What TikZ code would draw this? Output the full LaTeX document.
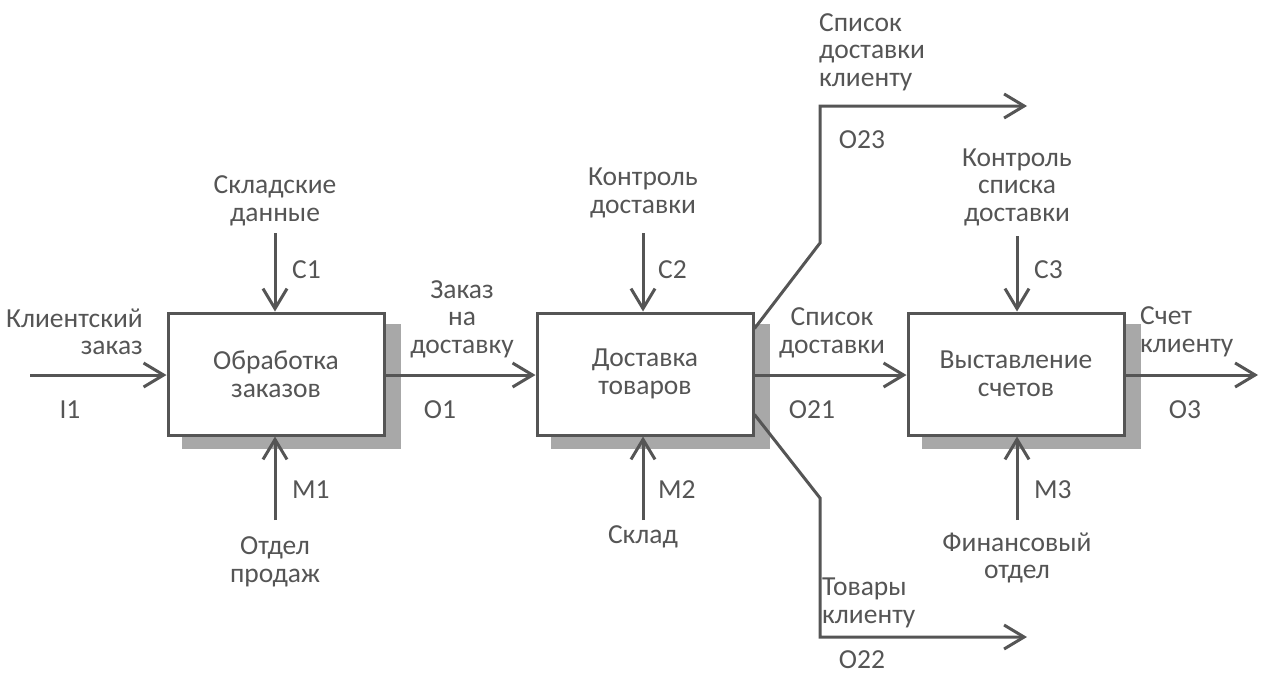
\documentclass[tikz,border=0pt]{standalone}
\usepackage{fontspec}
\setmainfont{Carlito}
\usetikzlibrary{arrows.meta,calc,backgrounds}
\definecolor{ln}{HTML}{555555}
\definecolor{sh}{HTML}{A8A8A8}
\definecolor{tx}{HTML}{555555}
\begin{document}
\begin{tikzpicture}[x=1pt,y=-1pt,
 box/.style={draw=ln, line width=3pt, fill=white, minimum width=216pt, minimum height=122pt, inner sep=0pt, align=center, text=tx, font=\fontsize{27.5}{28}\selectfont},
 lbl/.style={text=tx, font=\fontsize{27.5}{27.5}\selectfont, inner sep=0pt, align=center},
 arr/.style={draw=ln, line width=3pt, -{Straight Barb[length=20pt,width=24pt,line width=3pt]}},
]
\useasboundingbox (0,0) rectangle (1270,675);
% boxes
\node[box] (b1) at (276,374) {Обработка\\заказов};
\node[box] (b2) at (645,374) {Доставка\\товаров};
\node[box] (b3) at (1016,374) {Выставление\\счетов};
\begin{scope}[on background layer]
 \foreach \b in {b1,b2,b3}{
  \fill[sh] ($(\b.south west)+(15,12)$) rectangle ($(\b.north east)+(15,12)$);
 }
\end{scope}
% labels
\node[lbl, align=right, anchor=east] (li) at (143,332) {Клиентский\\заказ};
\node[lbl] (lI1) at (70,410) {I1};
\node[lbl] (lc1) at (275,201) {Складские\\данные};
\node[lbl, anchor=west] (tc1) at (292,270) {C1};
\node[lbl, anchor=west] (tm1) at (292,490) {M1};
\node[lbl] (lm1) at (275,562) {Отдел\\продаж};
\node[lbl] (lo1) at (462,319) {Заказ\\на\\доставку};
\node[lbl] (to1) at (440,410) {O1};
\node[lbl] (lc2) at (643,193) {Контроль\\доставки};
\node[lbl, anchor=west] (tc2) at (658,270) {C2};
\node[lbl, anchor=west] (tm2) at (658,490) {M2};
\node[lbl] (lm2) at (643,537) {Склад};
\node[lbl] (lo21) at (832,333) {Список\\доставки};
\node[lbl] (to21) at (812,410) {O21};
\node[lbl, align=left, anchor=west] (lo23) at (819,52) {Список\\доставки\\клиенту};
\node[lbl] (to23) at (862,140) {O23};
\node[lbl] (lc3) at (1017,187) {Контроль\\списка\\доставки};
\node[lbl, anchor=west] (tc3) at (1034,270) {C3};
\node[lbl, anchor=west] (tm3) at (1034,490) {M3};
\node[lbl] (lm3) at (1017,558) {Финансовый\\отдел};
\node[lbl, align=left, anchor=west] (lo22) at (822,603) {Товары\\клиенту};
\node[lbl] (to22) at (862,660) {O22};
\node[lbl, align=left, anchor=west] (lo3) at (1140,332) {Счет\\клиенту};
\node[lbl] (to3) at (1185,410) {O3};
% coordinates
\coordinate (i1) at (30,375);
\coordinate (c1) at (275,233);
\coordinate (m1) at (275,520);
\coordinate (c2) at (643,233);
\coordinate (m2) at (643,520);
\coordinate (c3) at (1017,236);
\coordinate (m3) at (1017,520);
\coordinate (o3) at (1258,375);
\coordinate (o23a) at (820,243);
\coordinate (o23b) at (820,106);
\coordinate (o23e) at (1027,106);
\coordinate (o22a) at (820,498);
\coordinate (o22b) at (820,637);
\coordinate (o22e) at (1027,637);
% arrows
\draw[arr] (i1) -- (i1 -| b1.west);
\draw[arr] (c1) -- (c1 |- b1.north);
\draw[arr] (m1) -- (m1 |- b1.south);
\draw[arr] (b1.east |- i1) -- (b2.west |- i1);
\draw[arr] (c2) -- (c2 |- b2.north);
\draw[arr] (m2) -- (m2 |- b2.south);
\draw[arr] (b2.east |- i1) -- (b3.west |- i1);
\draw[arr] (c3) -- (c3 |- b3.north);
\draw[arr] (m3) -- (m3 |- b3.south);
\draw[arr] (b3.east |- i1) -- (o3);
\draw[arr] ($(b2.north east)+(0,17)$) -- (o23a) -- (o23b) -- (o23e);
\draw[arr] ($(b2.south east)+(0,-22)$) -- (o22a) -- (o22b) -- (o22e);
\end{tikzpicture}
\end{document}
